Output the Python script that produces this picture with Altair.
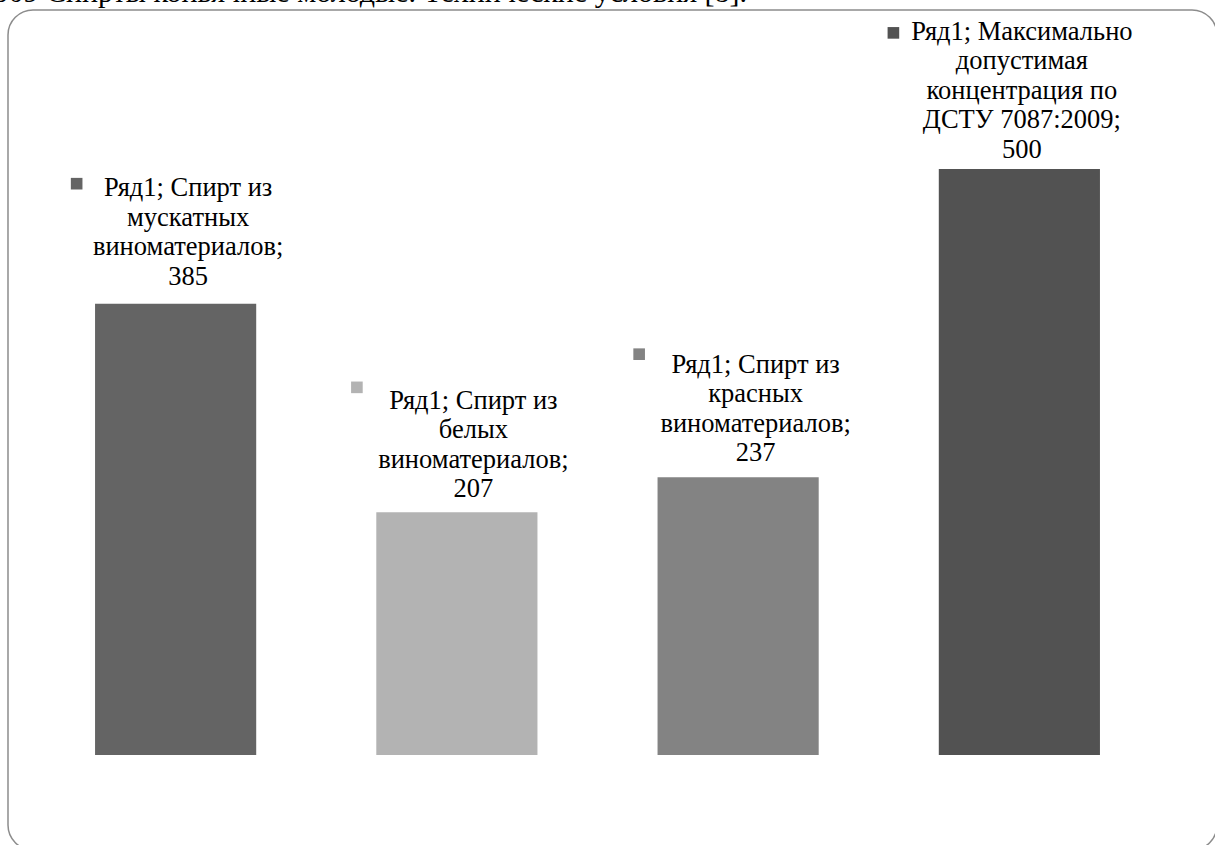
import altair as alt
import pandas as pd

# ---- data ----
series_name = "Ряд1"
categories = [
    "Спирт из мускатных виноматериалов",
    "Спирт из белых виноматериалов",
    "Спирт из красных виноматериалов",
    "Максимально допустимая концентрация по ДСТУ 7087:2009",
]
values = [385, 207, 237, 500]
label_lines = [
    ["Ряд1; Спирт из", "мускатных", "виноматериалов;", "385"],
    ["Ряд1; Спирт из", "белых", "виноматериалов;", "207"],
    ["Ряд1; Спирт из", "красных", "виноматериалов;", "237"],
    ["Ряд1; Максимально", "допустимая", "концентрация по", "ДСТУ 7087:2009;", "500"],
]
bar_colors = ["#646464", "#b3b3b3", "#838383", "#525252"]
top_text = "ДСТУ 7087:2009 Спирты коньячные молодые. Технические условия [8]."

df = pd.DataFrame({
    "cat": categories,
    "value": values,
    "label": ["\n".join(l) for l in label_lines],
})

# ---- layout constants ----
W, H = 1125, 735
FONT = "Liberation Serif"
FS = 26.5
LH = 29.5
HALF_BAND = 80.6
text_dx = [12.5, 16.5, 17.5, 2.5]
text_gap = [19, 15, 16, 11]
sq_dx = [-99, -100, -99, -126]
sq_dy = [-120, -125, -123, -136]

x_enc = alt.X("cat:N", sort=categories, axis=None,
              scale=alt.Scale(paddingInner=0.427, paddingOuter=0.2135))
y_enc = alt.Y("value:Q", axis=None, scale=alt.Scale(domain=[0, 627], nice=False, zero=True))
color_enc = alt.Color("cat:N", scale=alt.Scale(domain=categories, range=bar_colors), legend=None)

base = alt.Chart(df)

border = base.mark_rect(
    fillOpacity=0, stroke="#8c8c8c", strokeWidth=1.5, cornerRadius=25
).encode(
    x=alt.value(-27), x2=alt.value(1182), y=alt.value(-10), y2=alt.value(830)
).transform_filter(alt.datum.cat == categories[0])

header = base.mark_text(
    font=FONT, fontSize=30, align="right", baseline="alphabetic", color="black", text=top_text
).encode(
    x=alt.value(712), y=alt.value(-18)
).transform_filter(alt.datum.cat == categories[0])

bars = base.mark_bar().encode(x=x_enc, y=y_enc, color=color_enc)

layers = [border, header, bars]
for i, c in enumerate(categories):
    n = len(label_lines[i])
    txt = base.transform_filter(alt.datum.cat == c).mark_text(
        font=FONT, fontSize=FS, lineHeight=LH, lineBreak="\n", align="center",
        baseline="alphabetic", color="black", dx=text_dx[i],
        dy=-(text_gap[i] + (n - 1) * LH),
    ).encode(x=x_enc, y=y_enc, text="label:N")
    sq = base.transform_filter(alt.datum.cat == c).mark_square(
        size=135, opacity=1, filled=True
    ).encode(
        x=x_enc, y=y_enc, color=color_enc,
        xOffset=alt.value(sq_dx[i] + HALF_BAND), yOffset=alt.value(sq_dy[i]),
    )
    layers += [txt, sq]

chart = alt.layer(*layers).properties(
    width=W, height=H,
    autosize=alt.AutoSizeParams(type="none"),
    padding={"left": 35, "top": 20, "right": 55, "bottom": 90},
    background="white",
).configure_view(stroke=None)

chart.save("out.html", embed_options={"renderer": "svg", "actions": False})
